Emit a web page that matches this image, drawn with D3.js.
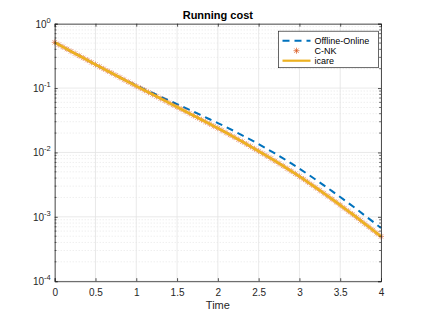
<!DOCTYPE html>
<html>
<head>
<meta charset="utf-8">
<script src="https://cdn.jsdelivr.net/npm/d3@7"></script>
<style>
  body { margin: 0; background: #fff; }
  svg { display: block; font-family: "Liberation Sans", Arial, sans-serif; }
  .tick text { fill: #262626; }
</style>
</head>
<body>
<svg id="chart" width="421" height="316"></svg>
<script>
// time grid of the C-NK / icare samples
const tFine = d3.range(0, 81).map(i => +(i * 0.05).toFixed(2));
// time grid of the Offline-Online samples
const tCoarse = d3.range(0, 41).map(i => +(i * 0.1).toFixed(1));

const cnk = [
    0.513, 0.473, 0.437, 0.404, 0.372, 0.344, 0.318, 0.294, 0.272, 0.251,
    0.232, 0.215, 0.199, 0.184, 0.171, 0.158, 0.146, 0.135, 0.125, 0.116,
    0.107, 0.0998, 0.0925, 0.0859, 0.0796, 0.0740, 0.0686, 0.0637, 0.0590, 0.0548,
    0.0508, 0.0471, 0.0437, 0.0405, 0.0375, 0.0348, 0.0322, 0.0299, 0.0277, 0.0256,
    0.0238, 0.0220, 0.0203, 0.0187, 0.0173, 0.0159, 0.0147, 0.0135, 0.0124, 0.0114,
    0.0105, 0.00962, 0.00881, 0.00807, 0.00738, 0.00675, 0.00617, 0.00562, 0.00513, 0.00467,
    0.00424, 0.00385, 0.00348, 0.00315, 0.00284, 0.00257, 0.00232, 0.00209, 0.00188, 0.00169,
    0.00152, 0.00136, 0.00122, 0.00110, 0.000982, 0.000877, 0.000783, 0.000700, 0.000624, 0.000556,
    0.000496
];
const icare = cnk.slice();
const offlineOnline = [
    0.513, 0.437, 0.372, 0.318, 0.272, 0.232, 0.199, 0.171, 0.146, 0.126,
    0.110, 0.0957, 0.0838, 0.0734, 0.0643, 0.0564, 0.0492, 0.0431, 0.0376, 0.0328,
    0.0286, 0.0248, 0.0215, 0.0184, 0.0158, 0.0135, 0.0114, 0.00964, 0.00809, 0.00676,
    0.00560, 0.00461, 0.00378, 0.00308, 0.00251, 0.00203, 0.00164, 0.00132, 0.00105, 0.000841,
    0.000671
];

const xTicks = [0, 0.5, 1, 1.5, 2, 2.5, 3, 3.5, 4];
const yDecades = [1e-4, 1e-3, 1e-2, 1e-1, 1];
const yExponents = ['-4', '-3', '-2', '-1', '0'];
const seriesNames = ['Offline-Online', 'C-NK', 'icare'];

const colBlue = '#0072bd', colRed = '#d95319', colYellow = '#edb120';
const axisCol = '#262626';

const margin = { top: 23.7, left: 54.7, right: 40, bottom: 34.8 };
const width = 421 - margin.left - margin.right;
const height = 316 - margin.top - margin.bottom;

const svg = d3.select('#chart');
const g = svg.append('g')
    .attr('transform', `translate(${margin.left}, ${margin.top})`);

const xScale = d3.scaleLinear().domain([0, 4]).range([0, width]);
const yScale = d3.scaleLog().domain([1e-4, 1]).range([height, 0]);

// minor y positions (2..9 in each decade)
const yMinor = [];
yDecades.slice(0, 4).forEach(d => {
    for (let k = 2; k <= 9; k++) yMinor.push(d * k);
});

// grid
g.append('g')
    .selectAll('line')
    .data(yMinor)
    .join('line')
    .attr('x1', 0).attr('x2', width)
    .attr('y1', d => yScale(d)).attr('y2', d => yScale(d))
    .attr('stroke', '#d6d6d6')
    .attr('stroke-width', 0.6)
    .attr('stroke-dasharray', '1,2');

g.append('g')
    .selectAll('line')
    .data(yDecades)
    .join('line')
    .attr('x1', 0).attr('x2', width)
    .attr('y1', d => yScale(d)).attr('y2', d => yScale(d))
    .attr('stroke', '#e3e3e3')
    .attr('stroke-width', 0.8);

g.append('g')
    .selectAll('line')
    .data(xTicks)
    .join('line')
    .attr('x1', d => xScale(d)).attr('x2', d => xScale(d))
    .attr('y1', 0).attr('y2', height)
    .attr('stroke', '#e3e3e3')
    .attr('stroke-width', 0.8);

// data
const line = (xs) => d3.line()
    .x((d, i) => xScale(xs[i]))
    .y(d => yScale(d));

g.append('path')
    .datum(offlineOnline)
    .attr('d', line(tCoarse))
    .attr('fill', 'none')
    .attr('stroke', colBlue)
    .attr('stroke-width', 2)
    .attr('stroke-dasharray', '7,5');

const star = 'M-3,0H3M0,-3V3M-2.2,-2.2L2.2,2.2M-2.2,2.2L2.2,-2.2';
g.append('g')
    .selectAll('path')
    .data(cnk)
    .join('path')
    .attr('transform', (d, i) => `translate(${xScale(tFine[i])},${yScale(d)})`)
    .attr('d', star)
    .attr('stroke', colRed)
    .attr('stroke-opacity', 0.8)
    .attr('stroke-width', 0.7)
    .attr('fill', 'none');

g.append('path')
    .datum(icare)
    .attr('d', line(tFine))
    .attr('fill', 'none')
    .attr('stroke', colYellow)
    .attr('stroke-width', 2.6);

// axes
const xAxis = d3.axisBottom(xScale).tickValues(xTicks).tickSize(-3).tickPadding(8).tickFormat(d3.format('~g'));
const xAxisTop = d3.axisTop(xScale).tickValues(xTicks).tickSize(-3).tickFormat('');
const yAxis = d3.axisLeft(yScale).tickValues(yDecades).tickSize(-3).tickFormat('');
const yAxisR = d3.axisRight(yScale).tickValues(yDecades).tickSize(-3).tickFormat('');

g.append('g').attr('transform', `translate(0,${height})`).call(xAxis)
    .call(a => a.selectAll('text').attr('font-size', 10).attr('font-family', 'Liberation Sans, Arial, sans-serif'));
g.append('g').call(xAxisTop);
g.append('g').call(yAxis);
g.append('g').attr('transform', `translate(${width},0)`).call(yAxisR);

g.selectAll('.domain').attr('stroke', axisCol).attr('stroke-width', 0.8);
g.selectAll('.tick line').attr('stroke', axisCol).attr('stroke-width', 0.8);

// minor y ticks on both sides
g.append('g')
    .selectAll('line')
    .data(yMinor)
    .join('line')
    .attr('x1', 0).attr('x2', 1.8)
    .attr('y1', d => yScale(d)).attr('y2', d => yScale(d))
    .attr('stroke', axisCol).attr('stroke-width', 0.7);
g.append('g')
    .selectAll('line')
    .data(yMinor)
    .join('line')
    .attr('x1', width).attr('x2', width - 1.8)
    .attr('y1', d => yScale(d)).attr('y2', d => yScale(d))
    .attr('stroke', axisCol).attr('stroke-width', 0.7);

// y tick labels 10^n
const yLab = g.append('g')
    .selectAll('text')
    .data(yDecades)
    .join('text')
    .attr('x', -4)
    .attr('y', d => yScale(d) + 4)
    .attr('text-anchor', 'end')
    .attr('fill', axisCol)
    .attr('font-size', 10);
yLab.append('tspan').text('10');
yLab.append('tspan')
    .attr('dy', -5)
    .attr('font-size', 7.5)
    .text((d, i) => yExponents[i]);

// labels
g.append('text')
    .attr('x', width / 2)
    .attr('y', height + 28)
    .attr('text-anchor', 'middle')
    .attr('fill', axisCol)
    .attr('font-size', 11)
    .text('Time');

g.append('text')
    .attr('x', width / 2)
    .attr('y', -5)
    .attr('text-anchor', 'middle')
    .attr('fill', '#000')
    .attr('font-size', 11)
    .attr('font-weight', 'bold')
    .text('Running cost');

// legend
const lg = g.append('g').attr('transform', `translate(${width - 102.5},${7.5})`);
lg.append('rect')
    .attr('width', 100).attr('height', 36.5)
    .attr('fill', '#fff')
    .attr('stroke', axisCol)
    .attr('stroke-width', 0.7);
const rowY = [9.5, 19.5, 29.5];
lg.append('line')
    .attr('x1', 4).attr('x2', 32).attr('y1', rowY[0]).attr('y2', rowY[0])
    .attr('stroke', colBlue).attr('stroke-width', 2).attr('stroke-dasharray', '7,5');
lg.append('path')
    .attr('transform', `translate(18,${rowY[1]})`)
    .attr('d', star)
    .attr('stroke', colRed).attr('stroke-width', 0.7);
lg.append('line')
    .attr('x1', 4).attr('x2', 32).attr('y1', rowY[2]).attr('y2', rowY[2])
    .attr('stroke', colYellow).attr('stroke-width', 2.2);
lg.selectAll('text.lab')
    .data(seriesNames)
    .join('text')
    .attr('class', 'lab')
    .attr('x', 36)
    .attr('y', (d, i) => rowY[i] + 3.2)
    .attr('fill', '#000')
    .attr('font-size', 9)
    .text(d => d);
</script>
</body>
</html>
